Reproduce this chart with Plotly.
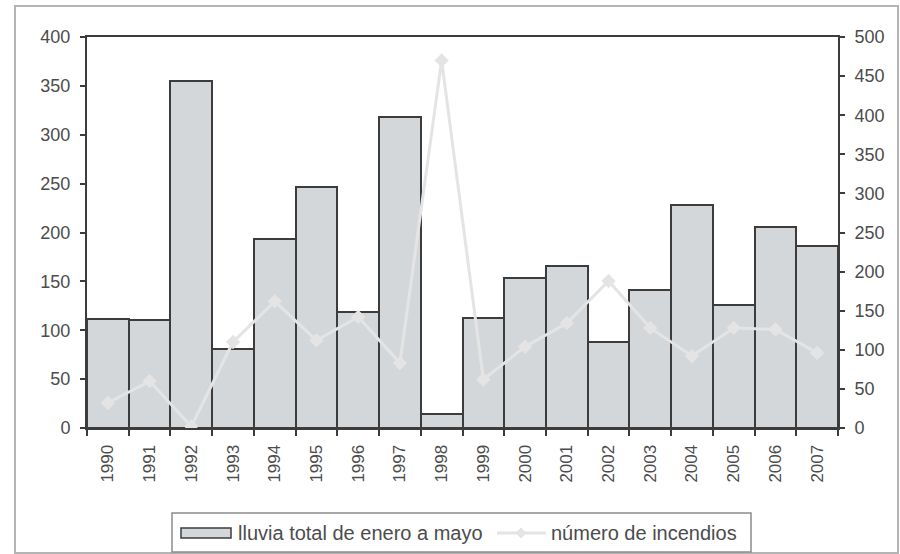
import plotly.graph_objects as go

# Annual series, 1990-2007
years = [str(y) for y in range(1990, 2008)]
lluvia = [112, 110, 355, 81, 193, 247, 119, 318, 14, 113, 153, 166, 88, 141, 228, 126, 206, 186]
incendios = [32, 60, 2, 110, 162, 112, 142, 83, 470, 62, 104, 134, 188, 128, 92, 128, 126, 96]

left_ticks = [0, 50, 100, 150, 200, 250, 300, 350, 400]
right_ticks = [0, 50, 100, 150, 200, 250, 300, 350, 400, 450, 500]

bar_label = "lluvia total de enero a mayo"
line_label = "número de incendios"

W, H = 900, 554
ML, MR, MT, MB = 87, 62, 37, 126
PW, PH = W - ML - MR, H - MT - MB

FONT = "Liberation Sans, Arial, sans-serif"
TXT = "#4c4c4c"
BAR_FILL = "#d4d7da"
BAR_LINE = "#3c3c3c"
LINE_COL = "#e4e4e4"


def px(x):
    return (x - ML) / PW


def py(y):
    return (H - MB - y) / PH


fig = go.Figure()

fig.add_trace(go.Bar(
    x=years, y=lluvia, name=bar_label,
    marker=dict(color=BAR_FILL, line=dict(color=BAR_LINE, width=2)),
    yaxis="y",
))

fig.add_trace(go.Scatter(
    x=years, y=incendios, name=line_label,
    mode="lines+markers",
    line=dict(color=LINE_COL, width=3),
    marker=dict(symbol="diamond", size=11, color=LINE_COL),
    yaxis="y2",
))

shapes = [
    # outer frame around the whole chart
    dict(type="rect", xref="paper", yref="paper",
         x0=px(15), x1=px(898), y0=py(553), y1=py(6),
         line=dict(color="#b4b4b4", width=2), layer="below"),
    # legend box
    dict(type="rect", xref="paper", yref="paper",
         x0=px(172), x1=px(751), y0=py(552), y1=py(513),
         line=dict(color="#8c8c8c", width=1.5), fillcolor="white"),
    # legend bar swatch
    dict(type="rect", xref="paper", yref="paper",
         x0=px(181), x1=px(231), y0=py(538), y1=py(528),
         line=dict(color=BAR_LINE, width=1.5), fillcolor=BAR_FILL),
    # legend line swatch
    dict(type="line", xref="paper", yref="paper",
         x0=px(497), x1=px(546), y0=py(533), y1=py(533),
         line=dict(color=LINE_COL, width=3)),
    dict(type="path", xref="paper", yref="paper",
         path="M {a},{b} L {c},{d} L {e},{b} L {c},{f} Z".format(
             a=px(516), b=py(533), c=px(521), d=py(528), e=px(526), f=py(538)),
         line=dict(color=LINE_COL, width=1), fillcolor=LINE_COL),
]

annotations = [
    dict(text=bar_label, xref="paper", yref="paper", x=px(236), y=py(533),
         xanchor="left", yanchor="middle", showarrow=False,
         font=dict(family=FONT, size=20, color=TXT)),
    dict(text=line_label, xref="paper", yref="paper", x=px(549), y=py(533),
         xanchor="left", yanchor="middle", showarrow=False,
         font=dict(family=FONT, size=20, color=TXT)),
]

fig.update_layout(
    width=W, height=H,
    margin=dict(l=ML, r=MR, t=MT, b=MB),
    paper_bgcolor="white", plot_bgcolor="white",
    showlegend=False,
    bargap=0,
    font=dict(family=FONT, size=18, color=TXT),
    xaxis=dict(
        type="category", tickangle=-90, tickson="boundaries",
        ticks="outside", ticklen=6, tickwidth=2, tickcolor=BAR_LINE,
        showline=True, mirror=True, linecolor=BAR_LINE, linewidth=2,
        showgrid=False, tickfont=dict(size=17, color=TXT),
        ticklabelstandoff=8,
        range=[-0.5, len(years) - 0.5],
    ),
    yaxis=dict(
        range=[0, 400], tickvals=left_ticks,
        ticks="outside", ticklen=5, tickwidth=2, tickcolor=BAR_LINE,
        showline=True, linecolor=BAR_LINE, linewidth=2,
        showgrid=False, zeroline=False, ticklabelstandoff=6,
        tickfont=dict(size=18, color=TXT),
    ),
    yaxis2=dict(
        range=[0, 500], tickvals=right_ticks, overlaying="y", side="right",
        ticks="outside", ticklen=5, tickwidth=2, tickcolor=BAR_LINE,
        showline=True, linecolor=BAR_LINE, linewidth=2,
        showgrid=False, zeroline=False, ticklabelstandoff=6,
        tickfont=dict(size=18, color=TXT),
    ),
    shapes=shapes,
    annotations=annotations,
)

fig.write_html("out.html")
